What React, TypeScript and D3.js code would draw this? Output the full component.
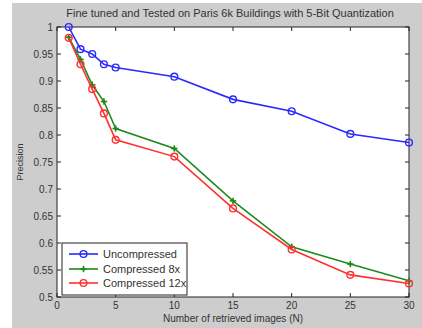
import React from "react";
import * as d3 from "d3";

const xValues = [1, 2, 3, 4, 5, 10, 15, 20, 25, 30];
const uncompressed = [1.0, 0.959, 0.95, 0.931, 0.925, 0.908, 0.866, 0.844, 0.802, 0.786];
const compressed8x = [0.981, 0.94, 0.893, 0.862, 0.812, 0.775, 0.678, 0.593, 0.561, 0.53];
const compressed12x = [0.98, 0.931, 0.885, 0.84, 0.791, 0.76, 0.664, 0.588, 0.541, 0.525];
const xTicks = [0, 5, 10, 15, 20, 25, 30];
const yTicks = [0.5, 0.55, 0.6, 0.65, 0.7, 0.75, 0.8, 0.85, 0.9, 0.95, 1];
const seriesNames = ["Uncompressed", "Compressed 8x", "Compressed 12x"];

const W = 422, H = 328;
const L = 57, R = 409, T = 27, B = 297;
const font = "'Liberation Sans', Arial, sans-serif";

const colors = ["#2a2aff", "#1e8a1e", "#ff3030"];

function Marker({ kind, x, y, color }: { kind: string; x: number; y: number; color: string }) {
  if (kind === "o") {
    return <circle cx={x} cy={y} r={3.4} fill="none" stroke={color} strokeWidth={1.4} />;
  }
  const s = 3.2;
  return (
    <g stroke={color} strokeWidth={1.6}>
      <line x1={x - s} y1={y} x2={x + s} y2={y} />
      <line x1={x} y1={y - s} x2={x} y2={y + s} />
      <circle cx={x} cy={y} r={1.6} fill={color} stroke="none" />
    </g>
  );
}

export default function App() {
  const x = d3.scaleLinear().domain([0, 30]).range([L, R]);
  const y = d3.scaleLinear().domain([0.5, 1]).range([B, T]);
  const line = d3.line<number>().x((_, i) => x(xValues[i])).y((d) => y(d));
  const data = [uncompressed, compressed8x, compressed12x];
  const kinds = ["o", "+", "o"];
  const tk = 4;

  const legX = 62, legY = 243, legW = 125, legH = 52;
  const legRows = [254, 269, 283];

  return (
    <svg width={W} height={H} style={{ position: "absolute", left: 0, top: 0 }}>
      <rect x={0} y={0} width={W} height={H} fill="#ffffff" />
      <rect x={12} y={3} width={W - 12} height={H - 3} fill="#cdcdcd" />
      <rect x={L} y={T} width={R - L} height={B - T} fill="#ffffff" />
      {xTicks.map((t) => (
        <g key={"x" + t}>
          <line x1={x(t)} x2={x(t)} y1={B} y2={B - tk} stroke="#222" />
          <line x1={x(t)} x2={x(t)} y1={T} y2={T + tk} stroke="#222" />
          <text x={x(t)} y={B + 12} textAnchor="middle" fontFamily={font} fontSize={10} fill="#333">
            {t}
          </text>
        </g>
      ))}
      {yTicks.map((t) => (
        <g key={"y" + t}>
          <line x1={L} x2={L + tk} y1={y(t)} y2={y(t)} stroke="#222" />
          <line x1={R} x2={R - tk} y1={y(t)} y2={y(t)} stroke="#222" />
          <text x={L - 4} y={y(t) + 3.5} textAnchor="end" fontFamily={font} fontSize={10} fill="#333">
            {String(t)}
          </text>
        </g>
      ))}
      <rect x={L} y={T} width={R - L} height={B - T} fill="none" stroke="#222" strokeWidth={1} />
      {data.map((d, si) => (
        <g key={si}>
          <path d={line(d) || ""} fill="none" stroke={colors[si]} strokeWidth={1.6} />
          {d.map((v, i) => (
            <Marker key={i} kind={kinds[si]} x={x(xValues[i])} y={y(v)} color={colors[si]} />
          ))}
        </g>
      ))}
      <text x={230} y={17} textAnchor="middle" fontFamily={font} fontSize={11} fill="#333">
        Fine tuned and Tested on Paris 6k Buildings with 5-Bit Quantization
      </text>
      <text x={(L + R) / 2} y={322} textAnchor="middle" fontFamily={font} fontSize={10} fill="#333">
        Number of retrieved images (N)
      </text>
      <text transform={`translate(23,${(T + B) / 2}) rotate(-90)`} textAnchor="middle" fontFamily={font} fontSize={9} fill="#333">
        Precision
      </text>
      <rect x={legX} y={legY} width={legW} height={legH} fill="#ffffff" stroke="#222" strokeWidth={1} />
      {seriesNames.map((n, i) => (
        <g key={n}>
          <line x1={legX + 7} x2={legX + 36} y1={legRows[i]} y2={legRows[i]} stroke={colors[i]} strokeWidth={1.6} />
          <Marker kind={kinds[i]} x={legX + 21.5} y={legRows[i]} color={colors[i]} />
          <text x={legX + 41} y={legRows[i] + 4} fontFamily={font} fontSize={11} fill="#333">
            {n}
          </text>
        </g>
      ))}
    </svg>
  );
}
